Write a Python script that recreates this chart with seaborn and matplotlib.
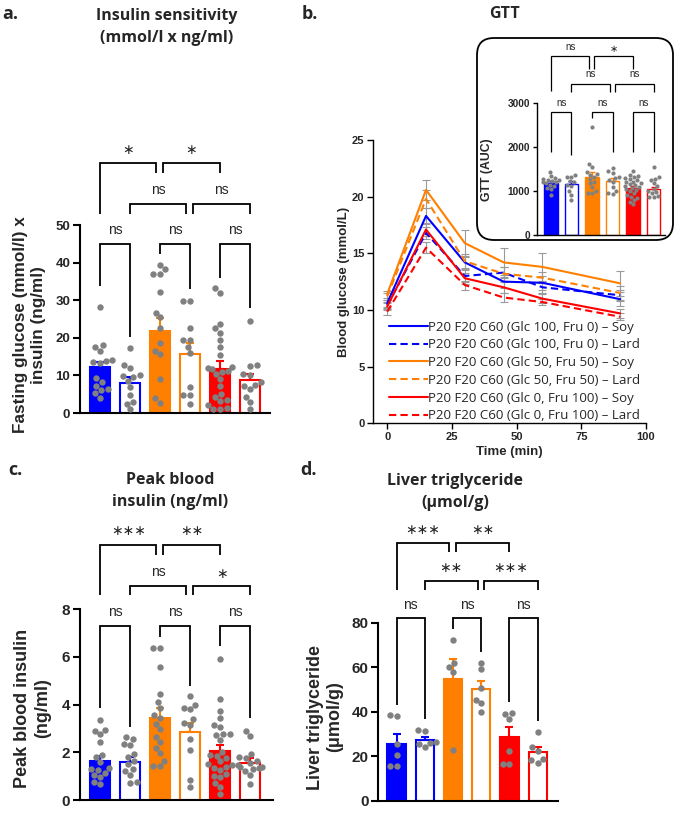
import numpy as np
import pandas as pd
import seaborn as sns
import matplotlib
matplotlib.use("Agg")
import matplotlib.pyplot as plt
from matplotlib.lines import Line2D
from matplotlib.patches import FancyBboxPatch

sns.set_theme(style="ticks")
plt.rcParams["font.family"] = ["Liberation Sans", "DejaVu Sans"]

# ---------------- data ----------------
groups = ["Glc100 Soy", "Glc100 Lard", "Glc50 Soy", "Glc50 Lard", "Fru100 Soy", "Fru100 Lard"]
colors = ["#0000FF", "#0000FF", "#FF8000", "#FF8000", "#FF0000", "#FF0000"]
filled = [True, False, True, False, True, False]

# a. Insulin sensitivity
a_means = [12.2, 8.1, 21.8, 15.7, 11.7, 8.8]
a_sem = [1.4, 1.6, 3.4, 3.0, 2.1, 1.6]
a_dots = [
    [28.3, 18.0, 17.5, 16.5, 14.0, 13.8, 13.5, 13.2, 9.2, 8.2, 7.2, 6.5, 6.0, 5.2, 4.0],
    [17.2, 12.8, 11.9, 10.2, 9.8, 9.5, 8.6, 7.0, 4.8, 3.0, 2.5, 1.0],
    [39.4, 38.2, 37.0, 37.0, 32.2, 26.7, 25.4, 22.7, 18.5, 16.6, 15.6, 9.0, 3.9, 2.7],
    [29.9, 29.9, 22.7, 19.4, 19.4, 17.5, 15.9, 7.0, 4.8, 4.8, 2.3],
    [33.2, 32.0, 23.8, 22.5, 21.4, 19.4, 17.5, 15.4, 12.3, 12.0, 11.8, 11.3, 11.0, 10.3,
     9.0, 7.2, 5.1, 4.3, 3.5, 3.2, 2.1, 1.2, 1.1, 1.0],
    [24.6, 12.8, 12.6, 10.4, 10.0, 8.3, 7.5, 7.2, 6.3, 4.3, 3.0, 1.1],
]

# c. Peak blood insulin
c_means = [1.64, 1.61, 3.43, 2.84, 2.06, 1.55]
c_sem = [0.22, 0.21, 0.45, 0.38, 0.26, 0.20]
c_dots = [
    [3.37, 2.92, 2.90, 2.75, 2.42, 1.88, 1.80, 1.60, 1.35, 1.30, 1.25, 1.15, 1.05, 0.95, 0.75, 0.68],
    [2.65, 2.55, 2.35, 2.30, 1.95, 1.80, 1.65, 1.50, 1.30, 1.20, 1.05, 0.75, 0.72],
    [6.37, 6.37, 5.60, 4.45, 4.10, 3.85, 3.57, 3.45, 3.19, 2.97, 2.66, 2.45, 2.17, 1.96, 1.65, 1.43, 1.43],
    [4.35, 4.00, 3.85, 3.80, 3.40, 3.25, 3.15, 2.55, 2.10, 0.85, 0.55],
    [5.92, 4.22, 3.72, 3.45, 3.15, 3.05, 2.78, 2.75, 2.72, 2.50, 2.00, 1.90, 1.85, 1.75, 1.62,
     1.50, 1.45, 1.40, 1.35, 1.25, 1.10, 1.00, 0.95, 0.70, 0.55, 0.25],
    [2.90, 2.70, 1.92, 1.80, 1.75, 1.62, 1.55, 1.45, 1.40, 1.38, 1.35, 1.30, 1.22, 1.05, 0.68],
]

# d. Liver triglyceride
d_means = [25.5, 27.1, 54.8, 50.1, 28.5, 21.7]
d_sem = [4.5, 1.7, 8.7, 3.7, 4.8, 2.6]
d_dots = [
    [38.4, 38.0, 25.4, 20.4, 15.8, 15.8],
    [31.8, 31.3, 26.5, 25.8, 25.5, 24.0],
    [72.2, 61.7, 60.2, 58.0, 22.8],
    [62.0, 59.0, 50.8, 45.2, 43.7, 39.7],
    [39.6, 39.0, 36.7, 22.2, 16.6, 16.3],
    [31.0, 24.0, 22.5, 18.6, 18.1, 17.1],
]

# b. GTT inset (AUC)
auc_means = [1182, 1166, 1332, 1234, 1082, 1045]
auc_sem = [45, 60, 110, 65, 45, 60]
auc_dots = [
    [1440, 1350, 1300, 1280, 1260, 1250, 1230, 1220, 1200, 1180, 1150, 1120, 1080, 1050, 920],
    [1380, 1330, 1320, 1230, 1200, 1150, 1120, 1000, 920, 800],
    [2450, 1630, 1560, 1430, 1400, 1380, 1330, 1280, 1220, 1180, 1100, 1000, 960, 950],
    [1520, 1450, 1420, 1330, 1300, 1260, 1220, 1100, 1000, 960, 940],
    [1450, 1380, 1350, 1320, 1300, 1280, 1250, 1220, 1200, 1180, 1160, 1140, 1120, 1100,
     1080, 1060, 1040, 1000, 960, 920, 880, 850, 800, 760, 700],
    [1560, 1330, 1280, 1250, 1180, 1120, 1060, 1000, 990, 960, 900, 880, 870],
]

# b. GTT curves
gtt_times = [0, 15, 30, 45, 60, 90]
gtt_labels = [
    "P20 F20 C60 (Glc 100, Fru 0) \u2013 Soy",
    "P20 F20 C60 (Glc 100, Fru 0) \u2013 Lard",
    "P20 F20 C60 (Glc 50, Fru 50) \u2013 Soy",
    "P20 F20 C60 (Glc 50, Fru 50) \u2013 Lard",
    "P20 F20 C60 (Glc 0, Fru 100) \u2013 Soy",
    "P20 F20 C60 (Glc 0, Fru 100) \u2013 Lard",
]
gtt_values = [
    [10.6, 18.3, 14.2, 12.5, 12.4, 10.95],
    [10.4, 16.8, 13.0, 13.3, 12.0, 11.3],
    [11.4, 20.6, 15.9, 14.2, 13.8, 12.35],
    [11.2, 19.8, 14.3, 13.2, 12.85, 11.5],
    [10.3, 17.1, 12.8, 12.0, 11.0, 9.7],
    [9.85, 15.5, 12.2, 11.1, 10.7, 9.4],
]
gtt_sem = [
    [0.3, 0.7, 0.6, 0.6, 0.6, 0.6],
    [0.3, 0.5, 0.5, 0.5, 0.5, 0.5],
    [0.3, 0.9, 1.2, 1.3, 1.2, 1.1],
    [0.3, 0.8, 0.6, 0.6, 0.5, 0.6],
    [0.3, 0.6, 0.5, 0.5, 0.4, 0.4],
    [0.3, 0.5, 0.4, 0.4, 0.3, 0.3],
]

# significance brackets: (i, j, bar_y, text_y, left_leg_end, right_leg_end, label)
STAR1, STAR2, STAR3 = "\u2217", "\u2217\u2217", "\u2217\u2217\u2217"
a_sig = [
    (0, 1, 45.0, 48.7, 33.8, 20.3, "ns"), (2, 3, 45.0, 48.7, 42.3, 32.9, "ns"),
    (4, 5, 45.0, 48.7, 35.8, 27.8, "ns"),
    (1, 3, 55.6, 59.3, 52.9, 52.9, "ns"), (3, 5, 55.6, 59.3, 52.9, 52.9, "ns"),
    (0, 2, 66.6, 69.9, 52.9, 63.8, STAR1), (2, 4, 66.6, 69.9, 63.8, 63.8, STAR1),
]
c_sig = [
    (0, 1, 7.28, 7.88, 3.88, 3.08, "ns"), (2, 3, 7.28, 7.88, 6.83, 4.79, "ns"),
    (4, 5, 7.28, 7.88, 6.47, 3.43, "ns"),
    (1, 3, 8.99, 9.57, 8.61, 8.61, "ns"), (3, 5, 8.99, 9.50, 8.61, 8.61, STAR1),
    (0, 2, 10.71, 11.27, 8.61, 10.26, STAR3), (2, 4, 10.71, 11.27, 10.26, 10.26, STAR2),
]
d_sig = [
    (0, 1, 82.0, 88.0, 43.0, 36.6, "ns"), (2, 3, 82.0, 88.0, 77.0, 67.0, "ns"),
    (4, 5, 82.0, 88.0, 44.5, 36.0, "ns"),
    (1, 3, 98.9, 104.4, 94.7, 94.7, STAR2), (3, 5, 98.9, 104.4, 94.7, 94.7, STAR3),
    (0, 2, 116.0, 121.7, 94.7, 111.9, STAR3), (2, 4, 116.0, 121.7, 111.9, 111.9, STAR2),
]
auc_sig = [
    (0, 1, 2795, 3015, 1890, 1820, "ns"), (2, 3, 2795, 3015, 2660, 1890, "ns"),
    (4, 5, 2795, 3015, 1890, 1890, "ns"),
    (1, 3, 3430, 3655, 3260, 3260, "ns"), (3, 5, 3430, 3655, 3260, 3260, "ns"),
    (0, 2, 4070, 4280, 3290, 3790, "ns"), (2, 4, 4070, 4245, 3790, 3790, STAR1),
]

# ---------------- figure ----------------
W, H = 675, 814
fig = plt.figure(figsize=(W / 100, H / 100), dpi=100)


def frac(x0, y_top, x1, y_bot):
    return [x0 / W, 1 - y_bot / H, (x1 - x0) / W, (y_bot - y_top) / H]


def fpos(x, y):
    return x / W, 1 - y / H


def bar_panel(ax, means, sems, dots, dot_size, lw, capsize, ylim, yticks, tick_fs, xlim):
    sns.barplot(x=groups, y=means, order=groups, width=0.65, color="white",
                errorbar=None, ax=ax, zorder=1)
    for patch, c, f in zip(ax.patches, colors, filled):
        patch.set_facecolor(c if f else "white")
        patch.set_edgecolor(c)
        patch.set_linewidth(lw)
    for i in range(len(groups)):
        ax.errorbar(i, means[i], yerr=[[0], [sems[i]]], fmt="none", ecolor=colors[i],
                    elinewidth=lw, capsize=capsize, capthick=lw, zorder=3)
    df = pd.DataFrame({"group": np.repeat(groups, [len(d) for d in dots]),
                       "value": np.concatenate(dots)})
    sns.swarmplot(data=df, x="group", y="value", order=groups, color="#808080",
                  size=dot_size, linewidth=0, ax=ax, zorder=4)
    ax.set_ylim(*ylim)
    ax.set_yticks(yticks)
    ax.set_xlim(*xlim)
    sns.despine(ax=ax)
    for s in ["left", "bottom"]:
        ax.spines[s].set_linewidth(lw)
        ax.spines[s].set_color("black")
    ax.tick_params(axis="y", width=lw, length=5 if tick_fs > 8 else 3, labelsize=tick_fs,
                   color="black", pad=2)
    ax.tick_params(axis="x", length=0, labelbottom=False)
    ax.set_xlabel("")
    ax.set_ylabel("")
    ax.set_facecolor("none")
    for lab in ax.get_yticklabels():
        lab.set_fontweight("bold")


def sig_brackets(ax, specs, lw, fs_ns, fs_star):
    for (i, j, y, ty, yl, yr, label) in specs:
        x1, x2 = float(i), float(j)
        for (i2, j2, y2, *_rest) in specs:
            if y2 == y and j2 == i:
                x1 = i + 0.1
            if y2 == y and i2 == j:
                x2 = j - 0.13
        ax.plot([x1, x1, x2, x2], [yl, y, y, yr], color="black", lw=lw, clip_on=False,
                solid_joinstyle="miter", solid_capstyle="butt", zorder=5)
        if label == "ns":
            ax.text((x1 + x2) / 2, ty, label, ha="center", va="center", fontsize=fs_ns,
                    family=["Liberation Sans", "DejaVu Sans"], clip_on=False)
        else:
            ax.text((x1 + x2) / 2, ty, label, ha="center", va="center", fontsize=fs_star,
                    family=["DejaVu Sans"], clip_on=False)


# panel a
ax_a = fig.add_axes(frac(80, 225, 270, 413))
bar_panel(ax_a, a_means, a_sem, a_dots, 4.6, 1.5, 3.2, (0, 50), [0, 10, 20, 30, 40, 50], 9.5,
          (-0.67, 5.67))
sig_brackets(ax_a, a_sig, 1.3, 10, 10)
ax_a.set_ylabel("Fasting glucose (mmol/l) x\ninsulin (ng/ml)", fontsize=12.3,
                fontweight="bold", linespacing=1.3)
ax_a.yaxis.set_label_coords(-0.178, 0.47)

# panel c
ax_c = fig.add_axes(frac(80, 609.3, 273, 800))
bar_panel(ax_c, c_means, c_sem, c_dots, 4.6, 1.5, 3.2, (0, 8), [0, 2, 4, 6, 8], 11,
          (-0.67, 5.76))
sig_brackets(ax_c, c_sig, 1.3, 10, 10)
ax_c.set_ylabel("Peak blood insulin\n(ng/ml)", fontsize=13, fontweight="bold",
                linespacing=1.25)
ax_c.yaxis.set_label_coords(-0.15, 0.48)

# panel d
ax_d = fig.add_axes(frac(378.3, 622.7, 557.7, 800.7))
bar_panel(ax_d, d_means, d_sem, d_dots, 4.6, 1.5, 3.2, (0, 80), [0, 20, 40, 60, 80], 11,
          (-0.65, 5.71))
sig_brackets(ax_d, d_sig, 1.3, 10, 10)
ax_d.set_ylabel("Liver triglyceride\n(\u03bcmol/g)", fontsize=13, fontweight="bold",
                linespacing=1.2)
ax_d.yaxis.set_label_coords(-0.195, 0.47)

# panel b main GTT
ax_b = fig.add_axes(frac(372.7, 140, 646, 423.3))
gtt_df = pd.DataFrame({
    "time": np.tile(gtt_times, len(gtt_labels)),
    "glucose": np.concatenate(gtt_values),
    "series": np.repeat(gtt_labels, len(gtt_times)),
})
line_colors = ["#0000FF", "#0000FF", "#FF8000", "#FF8000", "#FF0000", "#FF0000"]
pal = dict(zip(gtt_labels, line_colors))
dash_map = {lab: ("" if k % 2 == 0 else (3.5, 2)) for k, lab in enumerate(gtt_labels)}
for k, lab in enumerate(gtt_labels):
    ax_b.errorbar(gtt_times, gtt_values[k], yerr=gtt_sem[k], fmt="none", ecolor="#9a9a9a",
                  elinewidth=0.8, capsize=3, capthick=0.8, zorder=1)
sns.lineplot(data=gtt_df, x="time", y="glucose", hue="series", style="series",
             hue_order=gtt_labels, style_order=gtt_labels, palette=pal, dashes=dash_map,
             errorbar=None, linewidth=1.5, legend=False, ax=ax_b, zorder=2)
ax_b.set_xlim(-5.6, 100)
ax_b.set_ylim(0, 25)
ax_b.set_xticks([0, 25, 50, 75, 100])
ax_b.set_yticks([0, 5, 10, 15, 20, 25])
sns.despine(ax=ax_b)
for s in ["left", "bottom"]:
    ax_b.spines[s].set_linewidth(1.0)
    ax_b.spines[s].set_color("black")
ax_b.tick_params(width=1.0, length=4, labelsize=8, color="black", pad=2)
for lab in ax_b.get_xticklabels() + ax_b.get_yticklabels():
    lab.set_fontweight("bold")
ax_b.set_xlabel("Time (min)", fontsize=9.5, fontweight="bold", labelpad=3)
ax_b.set_ylabel("Blood glucose (mmol/L)", fontsize=9.5, fontweight="bold")
ax_b.yaxis.set_label_coords(-0.083, 0.5)
ax_b.set_facecolor("none")
handles = [Line2D([0], [0], color=line_colors[k], lw=1.5,
                  linestyle="-" if k % 2 == 0 else (0, (3.5, 2))) for k in range(6)]
leg = ax_b.legend(handles, gtt_labels, loc="lower left", bbox_to_anchor=(0.04, -0.015),
                  frameon=False, handlelength=3.0, handletextpad=0.0, labelspacing=0.36,
                  borderaxespad=0, prop={"family": ["Open Sans", "DejaVu Sans"], "size": 9.5})

# inset AUC
ax_in = fig.add_axes(frac(537.3, 103.3, 665, 235.3))
bar_panel(ax_in, auc_means, auc_sem, auc_dots, 3.0, 1.0, 2.0, (0, 3000), [0, 1000, 2000, 3000],
          7.3, (-0.66, 5.55))
sig_brackets(ax_in, auc_sig, 0.9, 7, 7)
ax_in.set_ylabel("GTT (AUC)", fontsize=8.8, fontweight="bold")
ax_in.yaxis.set_label_coords(-0.345, 0.5)

# overlay for rounded inset frame
ov = fig.add_axes([0, 0, 1, 1], zorder=10)
ov.set_xlim(0, W)
ov.set_ylim(H, 0)
ov.axis("off")
ov.patch.set_alpha(0)
ov.add_patch(FancyBboxPatch((477, 38), 196, 202, boxstyle="round,pad=0,rounding_size=17",
                            fill=False, edgecolor="black", lw=1.3))

# titles and panel letters
tfont = ["Open Sans", "DejaVu Sans"]
for (x, y, s) in [(2, 14, "a."), (302, 14, "b."), (8, 470, "c."), (300, 470, "d.")]:
    fig.text(*fpos(x, y), s, fontsize=13, fontweight="bold", family=tfont, va="center",
             ha="left")
for (x, y, s) in [(167, 27, "Insulin sensitivity\n(mmol/l x ng/ml)"),
                  (505, 14, "GTT"),
                  (170, 491, "Peak blood\ninsulin (ng/ml)"),
                  (455, 492, "Liver triglyceride\n(\u03bcmol/g)")]:
    fig.text(*fpos(x, y), s, fontsize=11.5, fontweight="bold", family=tfont, va="center",
             ha="center", linespacing=1.5)

fig.savefig("out.png", dpi=100)
